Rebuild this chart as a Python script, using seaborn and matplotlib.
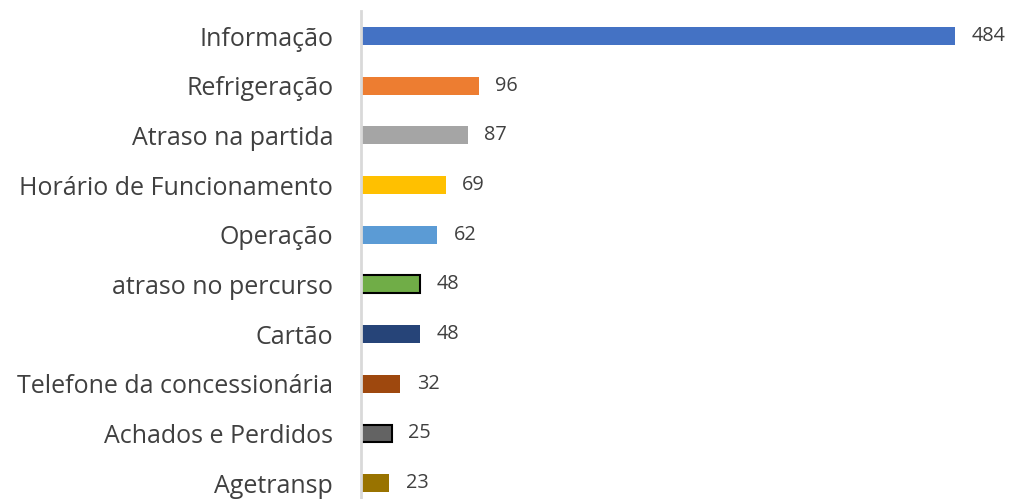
import matplotlib
matplotlib.use("Agg")
import matplotlib.pyplot as plt
import seaborn as sns
import pandas as pd

categories = ["Informação", "Refrigeração", "Atraso na partida", "Horário de Funcionamento",
              "Operação", "atraso no percurso", "Cartão", "Telefone da concessionária",
              "Achados e Perdidos", "Agetransp"]
values = [484, 96, 87, 69, 62, 48, 48, 32, 25, 23]
colors = ["#4472C4", "#ED7D31", "#A5A5A5", "#FFC000", "#5B9BD5", "#70AD47",
          "#264478", "#9E480E", "#636363", "#997300"]
edged = [False, False, False, False, False, True, False, False, True, False]

sns.set_style("white")
plt.rcParams['font.family'] = ['Open Sans', 'DejaVu Sans']

df = pd.DataFrame({"cat": categories, "val": values})
fig = plt.figure(figsize=(10.09, 4.99), dpi=100)
top_px, bot_px = 11.2, 508.0
ax = fig.add_axes([361/1009, (499-bot_px)/499, (1000-361)/1009, (bot_px-top_px)/499])
sns.barplot(data=df, x="val", y="cat", hue="cat", palette=colors, legend=False,
            width=0.36, ax=ax, saturation=1)
for p, e in zip(ax.patches, edged):
    if e:
        p.set_edgecolor("black")
        p.set_linewidth(1.5)
    else:
        p.set_linewidth(0)
for cont in ax.containers:
    ax.bar_label(cont, padding=12, fontsize=14.3, color="#404040")
ax.set_xlim(0, (1000-362)/1.225)
ax.set_ylim(9.5, -0.5)
ax.set_xlabel("")
ax.set_ylabel("")
ax.set_xticks([])
ax.tick_params(axis="y", length=0, pad=20, labelsize=18, labelcolor="#404040")
for s in ["top", "right", "bottom"]:
    ax.spines[s].set_visible(False)
ax.spines["left"].set_color("#D9D9D9")
ax.spines["left"].set_linewidth(2)
fig.savefig("out.png", dpi=100)
